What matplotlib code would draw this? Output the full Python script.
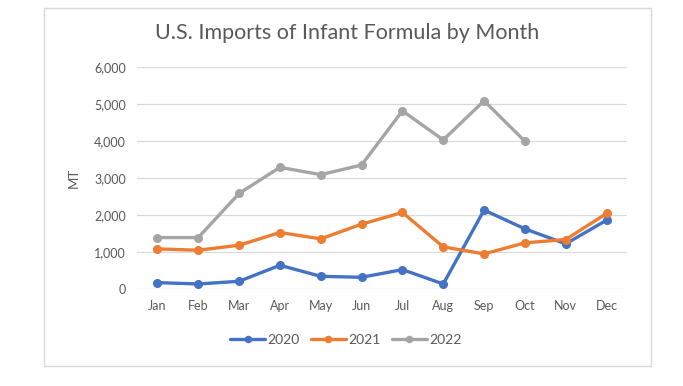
import matplotlib
matplotlib.use("Agg")
import matplotlib.pyplot as plt
from matplotlib.patches import Rectangle

months = ["Jan", "Feb", "Mar", "Apr", "May", "Jun", "Jul", "Aug", "Sep", "Oct", "Nov", "Dec"]
imports_2020 = [172, 136, 208, 641, 343, 316, 524, 136, 2132, 1626, 1220, 1861]
imports_2021 = [1084, 1048, 1183, 1527, 1355, 1752, 2069, 1138, 949, 1247, 1337, 2042]
imports_2022 = [1390, 1390, 2583, 3288, 3090, 3351, 4815, 4029, 5086, 3993]
yticks = [0, 1000, 2000, 3000, 4000, 5000, 6000]

plt.rcParams['font.family'] = ['Lato', 'DejaVu Sans']

fig = plt.figure(figsize=(6.83, 3.86), dpi=100)
fig.patches.append(Rectangle((44/683, 1-366/386), (651-44)/683, (366-8)/386,
                             transform=fig.transFigure, fill=False,
                             edgecolor="#d9d9d9", lw=1))

ax = fig.add_axes([137/683, 1-289/386, (627-137)/683, (289-67)/386])

series = [("2020", imports_2020, "#4472C4"),
          ("2021", imports_2021, "#ED7D31"),
          ("2022", imports_2022, "#A5A5A5")]
for name, vals, col in series:
    ax.plot(range(len(vals)), vals, color=col, lw=2.4, marker="o", ms=5.5,
            label=name, solid_capstyle="round")

ax.set_xlim(-0.5, 11.5)
ax.set_ylim(0, 6000)
ax.set_yticks(yticks)
ax.set_yticklabels([f"{v:,}" for v in yticks])
ax.set_xticks(range(12))
ax.set_xticklabels(months)
ax.grid(axis="y", color="#d9d9d9", lw=0.9)
ax.set_axisbelow(True)
for s in ax.spines.values():
    s.set_visible(False)
ax.tick_params(length=0, colors="#595959", labelsize=9, pad=8)
ax.set_ylabel("MT", color="#595959", fontsize=9.5, labelpad=10)

fig.text(347/683, 1-33/386, "U.S. Imports of Infant Formula by Month",
         ha="center", va="center", fontsize=15.5, color="#595959")

fig.legend(loc="center", bbox_to_anchor=(346/683, 1-340/386), ncol=3,
           frameon=False, fontsize=10, labelcolor="#595959",
           handlelength=2.5, columnspacing=0.8, handletextpad=0.2,
           markerscale=0.8)

fig.savefig("out.png", dpi=100)
